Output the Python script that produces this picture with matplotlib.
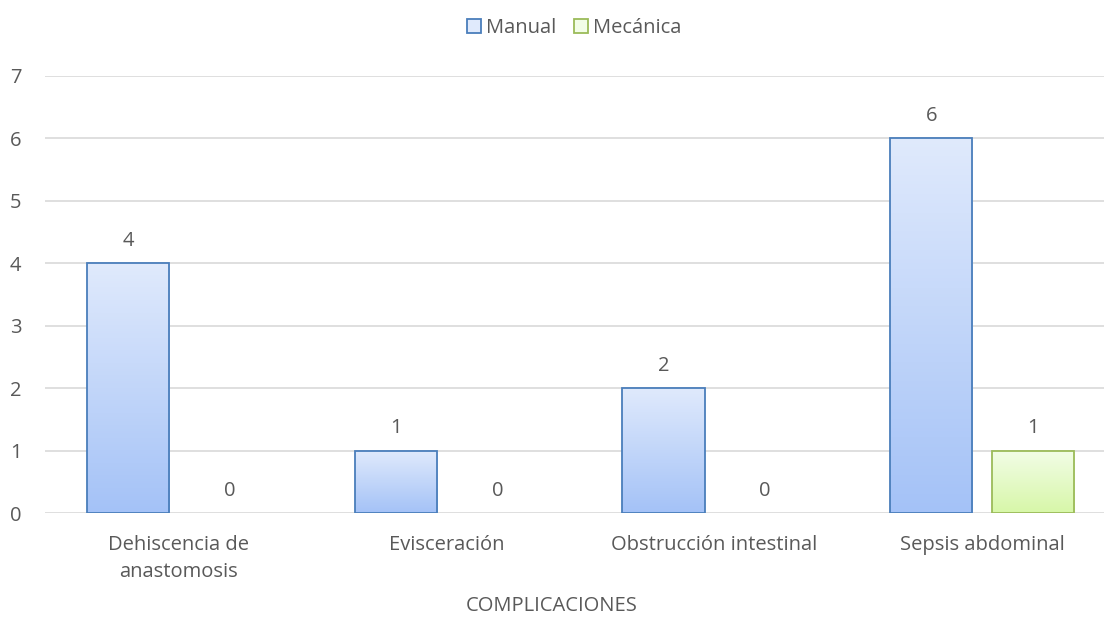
import numpy as np
import matplotlib.pyplot as plt
from matplotlib.patches import Patch
from matplotlib.colors import LinearSegmentedColormap

categories = ['Dehiscencia de\nanastomosis', 'Evisceración', 'Obstrucción intestinal', 'Sepsis abdominal']
manual = [4, 1, 2, 6]
mecanica = [0, 0, 0, 1]

plt.rcParams['font.family'] = ['Open Sans', 'DejaVu Sans']
text_color = '#595959'
fs = 14.5

fig = plt.figure(figsize=(11.04, 6.22), dpi=100)
# the plot area runs a little past the right edge of the figure
ax = fig.add_axes([45 / 1104, 0.1748, 1071 / 1104, 0.7035])

x = np.arange(len(categories))
width = 0.308
offset = 0.19

series = [
    (manual, -offset, '#4a7ebb', ('#a4c2f7', '#e0eafc'), 'Manual'),
    (mecanica, offset, '#9bbb59', ('#d7f7a8', '#f2fde7'), 'Mecánica'),
]

grad = np.linspace(0, 1, 256).reshape(-1, 1)
handles = []
for vals, off, edge, (c0, c1), name in series:
    cmap = LinearSegmentedColormap.from_list(name, [c0, c1])
    bars = ax.bar(x + off, vals, width, facecolor='none', edgecolor=edge, linewidth=1.3, zorder=3)
    for b, v in zip(bars, vals):
        if v > 0:
            im = ax.imshow(grad, cmap=cmap, origin='lower', aspect='auto', zorder=2,
                           extent=[b.get_x(), b.get_x() + b.get_width(), 0, v])
            im.set_clip_path(b)
        else:
            b.set_visible(False)
        ax.text(b.get_x() + b.get_width() / 2, v + 0.2, str(v), ha='center', va='bottom',
                fontsize=fs, color=text_color)
    handles.append(Patch(facecolor=c1, edgecolor=edge, linewidth=1.3, label=name))

ax.set_xlim(-0.5, len(categories) - 0.5)
ax.set_ylim(0, 7)
ax.set_yticks(range(8))
ax.set_xticks(x)
ax.set_xticklabels(categories, fontsize=fs, color=text_color, linespacing=1.45)
ax.tick_params(axis='y', length=0, pad=17, labelsize=fs, labelcolor=text_color)
ax.tick_params(axis='x', length=0, pad=16)
ax.grid(axis='y', color='#d9d9d9', linewidth=1.2, zorder=0)
ax.set_axisbelow(True)
for s in ax.spines.values():
    s.set_visible(False)

fig.text(0.5, 0.01, 'COMPLICACIONES', ha='center', va='bottom', fontsize=fs, color=text_color)
fig.legend(handles=handles, loc='upper center', bbox_to_anchor=(0.52, 1.0), ncol=2, frameon=False,
           fontsize=fs, labelcolor=text_color, handlelength=0.7, handleheight=0.7,
           handletextpad=0.25, columnspacing=0.9)

fig.savefig('out.png', dpi=100)
